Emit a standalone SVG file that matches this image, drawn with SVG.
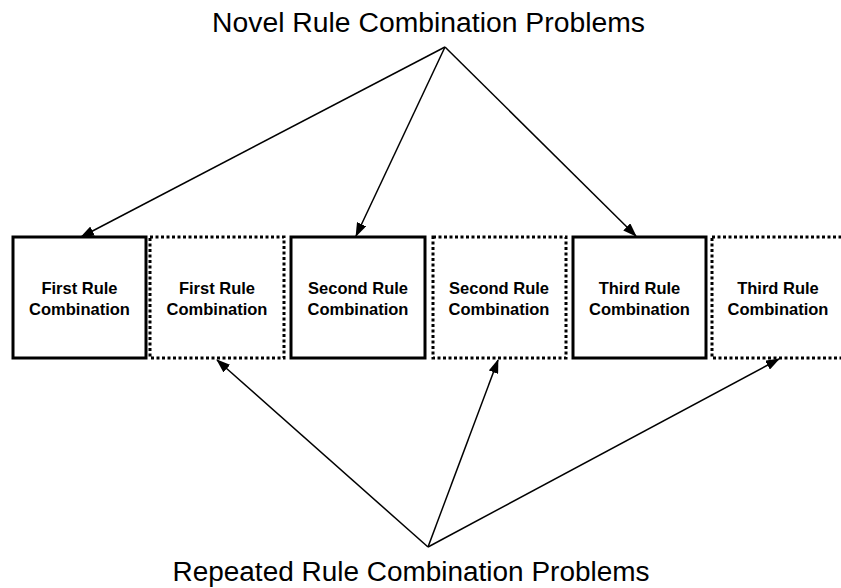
<svg xmlns="http://www.w3.org/2000/svg" width="841" height="588" viewBox="0 0 841 588">
<style>
.solid{fill:#fff;stroke:#000;stroke-width:3}
.dot{fill:#fff;stroke:#000;stroke-width:3;stroke-dasharray:3 2.5}
.lbl{font-family:"Liberation Sans",Arial,sans-serif;font-weight:bold;font-size:16.5px;text-anchor:middle;fill:#000}
.title{font-family:"Liberation Sans",Arial,sans-serif;font-size:27px;text-anchor:middle;fill:#000}
.conn{stroke:#000;stroke-width:1.5;fill:none;marker-end:url(#ah)}
</style>
<defs>
<marker id="ah" markerWidth="14" markerHeight="10" refX="13" refY="5" orient="auto" markerUnits="userSpaceOnUse">
<path d="M0,0 L14,5 L0,10 z" fill="#000"/>
</marker>
</defs>
<rect width="841" height="588" fill="#fff"/>
<text id="novel" class="title" x="428.5" y="32" textLength="433" lengthAdjust="spacingAndGlyphs">Novel Rule Combination Problems</text>
<text id="repeated" class="title" x="411" y="581" textLength="477" lengthAdjust="spacingAndGlyphs">Repeated Rule Combination Problems</text>
<g id="n1"><rect class="solid" x="13" y="237" width="133" height="121"/><text class="lbl" x="79.5" y="294">First Rule</text><text class="lbl" x="79.5" y="315">Combination</text></g>
<g id="r1"><rect class="dot" x="150" y="237" width="134" height="121"/><text class="lbl" x="217" y="294">First Rule</text><text class="lbl" x="217" y="315">Combination</text></g>
<g id="n2"><rect class="solid" x="291" y="237" width="134" height="121"/><text class="lbl" x="358" y="294">Second Rule</text><text class="lbl" x="358" y="315">Combination</text></g>
<g id="r2"><rect class="dot" x="433" y="237" width="133" height="121"/><text class="lbl" x="499" y="294">Second Rule</text><text class="lbl" x="499" y="315">Combination</text></g>
<g id="n3"><rect class="solid" x="573" y="237" width="133" height="121"/><text class="lbl" x="639.5" y="294">Third Rule</text><text class="lbl" x="639.5" y="315">Combination</text></g>
<g id="r3"><rect class="dot" x="712" y="237" width="134" height="121"/><text class="lbl" x="778" y="294">Third Rule</text><text class="lbl" x="778" y="315">Combination</text></g>
<g id="connectors">
<line class="conn" x1="445" y1="47" x2="81" y2="237"/>
<line class="conn" x1="445" y1="47" x2="356" y2="236"/>
<line class="conn" x1="445" y1="47" x2="636" y2="236"/>
<line class="conn" x1="428" y1="547" x2="217" y2="360"/>
<line class="conn" x1="428" y1="547" x2="498" y2="360"/>
<line class="conn" x1="428" y1="547" x2="779" y2="359"/>
</g>
</svg>
